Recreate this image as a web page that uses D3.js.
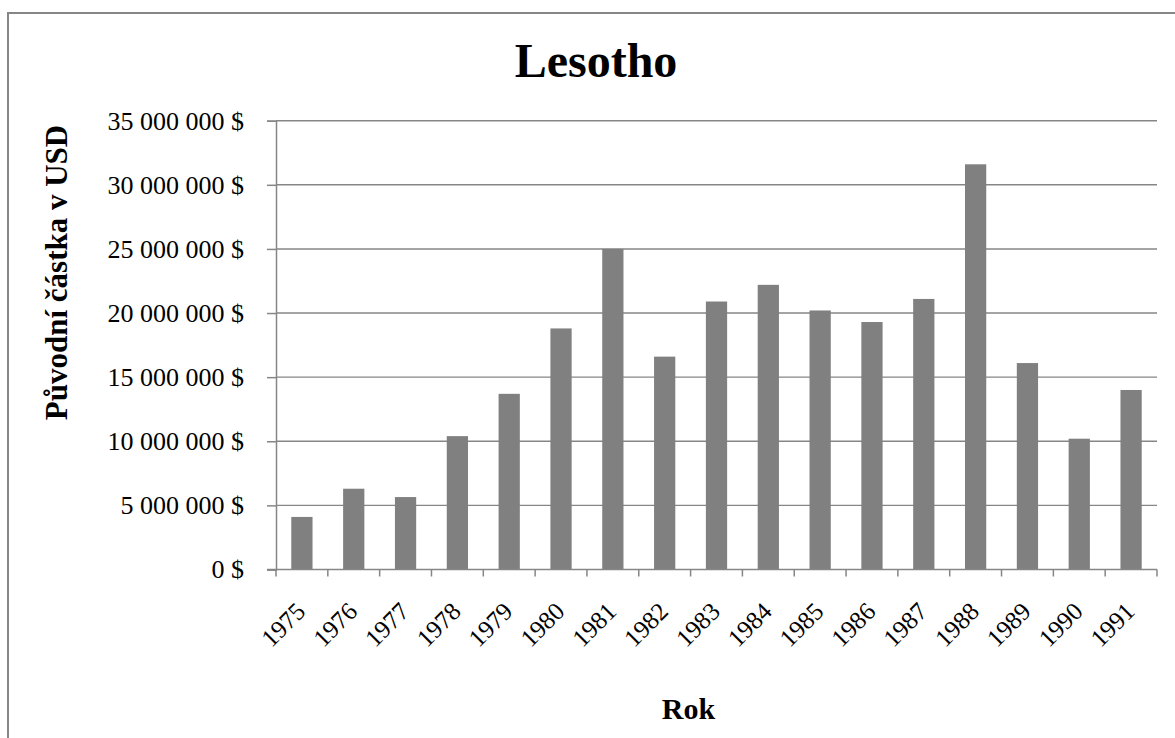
<!DOCTYPE html>
<html>
<head>
<meta charset="utf-8">
<script src="https://cdn.jsdelivr.net/npm/d3@7"></script>
<style>
  html, body { margin: 0; padding: 0; background: #fff; }
  svg { display: block; }
  text { font-family: "Liberation Serif", "Times New Roman", serif; fill: #000; }
</style>
</head>
<body>
<svg id="chart" width="1175" height="738"></svg>
<script>
const years = ["1975","1976","1977","1978","1979","1980","1981","1982","1983","1984","1985","1986","1987","1988","1989","1990","1991"];
const amounts = [4100000, 6300000, 5650000, 10400000, 13700000, 18800000, 25000000, 16600000, 20900000, 22200000, 20200000, 19300000, 21100000, 31600000, 16100000, 10200000, 14000000];
const yTicks = [0, 5000000, 10000000, 15000000, 20000000, 25000000, 30000000, 35000000];
const titleText = "Lesotho";
const yTitle = "Původní částka v USD";
const xTitle = "Rok";

const svg = d3.select("#chart");
const gray = "#868686";

// outer border
svg.append("rect").attr("x", 8).attr("y", 13).attr("width", 1300).attr("height", 900)
  .attr("fill", "none").attr("stroke", gray).attr("stroke-width", 2);

const pLeft = 276, pRight = 1157, pTop = 120.7, pBottom = 569.5;

const x = d3.scaleBand().domain(years).range([pLeft, pRight]).paddingInner(0.59).paddingOuter(0.295);
const y = d3.scaleLinear().domain([0, 35000000]).range([pBottom, pTop]);

const fmt = v => d3.format(",")(v).replace(/,/g, " ") + " $";

// gridlines
svg.append("g").selectAll("line").data(yTicks.filter(d => d > 0)).join("line")
  .attr("x1", pLeft).attr("x2", pRight)
  .attr("y1", d => y(d)).attr("y2", d => y(d))
  .attr("stroke", gray).attr("stroke-width", 1.4);

// bars
svg.append("g").selectAll("rect").data(years).join("rect")
  .attr("x", d => x(d))
  .attr("width", x.bandwidth())
  .attr("y", (d, i) => y(amounts[i]))
  .attr("height", (d, i) => pBottom - y(amounts[i]))
  .attr("fill", "#808080");

// y axis
const yAxis = d3.axisLeft(y).tickValues(yTicks).tickFormat(fmt).tickSize(9).tickPadding(23);
const gy = svg.append("g").attr("transform", `translate(${pLeft},0)`).call(yAxis);
gy.select(".domain").attr("stroke", gray).attr("stroke-width", 1.5);
gy.selectAll(".tick line").attr("stroke", gray).attr("stroke-width", 1.5);
gy.selectAll(".tick text").style("font-family", "Liberation Serif").style("font-size", "26px").attr("fill", "#000");

// x axis line
svg.append("line").attr("x1", pLeft - 9).attr("x2", pRight).attr("y1", pBottom).attr("y2", pBottom)
  .attr("stroke", gray).attr("stroke-width", 1.5);
// x ticks at band boundaries
const step = x.step();
const bounds = d3.range(years.length + 1).map(i => pLeft + i * step);
svg.append("g").selectAll("line").data(bounds).join("line")
  .attr("x1", d => d).attr("x2", d => d)
  .attr("y1", pBottom).attr("y2", pBottom + 7)
  .attr("stroke", gray).attr("stroke-width", 1.5);

// x tick labels
svg.append("g").selectAll("text").data(years).join("text")
  .attr("transform", d => `translate(${x(d) + x.bandwidth() / 2 + 5},613) rotate(-45)`)
  .attr("text-anchor", "end")
  .style("font-size", "25px")
  .text(d => d);

// title
svg.append("text").attr("x", 596).attr("y", 77).attr("text-anchor", "middle")
  .style("font-size", "48px").style("font-weight", "bold").text(titleText);

// y title
svg.append("text").attr("transform", "translate(67,272.5) rotate(-90)")
  .attr("text-anchor", "middle")
  .style("font-size", "31px").style("font-weight", "bold").text(yTitle);

// x title
svg.append("text").attr("x", 688.5).attr("y", 719).attr("text-anchor", "middle")
  .style("font-size", "30px").style("font-weight", "bold").text(xTitle);
</script>
</body>
</html>
